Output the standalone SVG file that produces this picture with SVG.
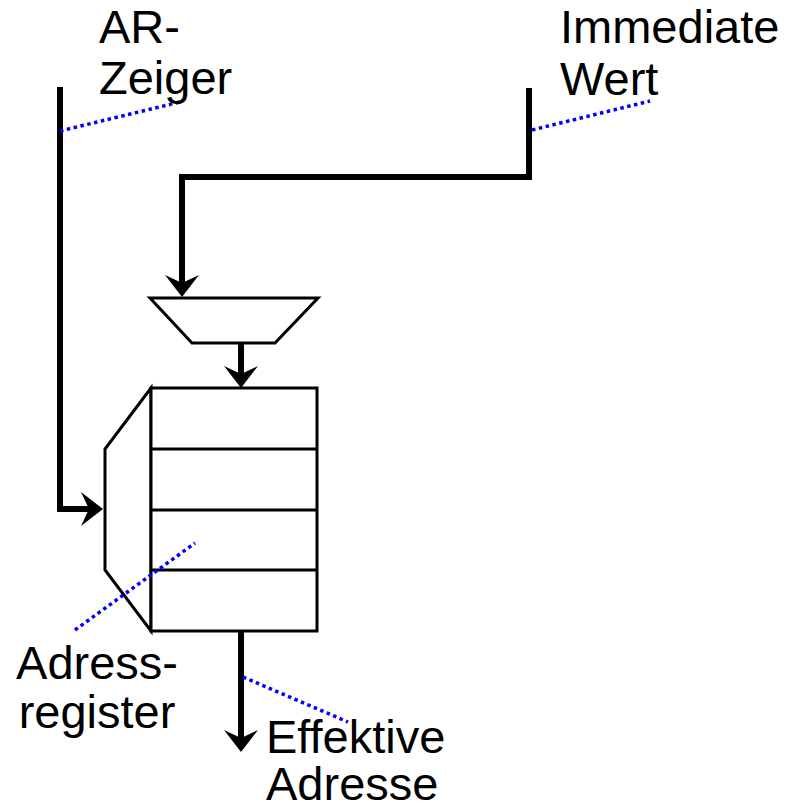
<svg xmlns="http://www.w3.org/2000/svg" width="788" height="809" viewBox="0 0 788 809">
<style>
.t{font-family:"Liberation Sans",Arial,sans-serif;font-size:47px;fill:#000}
.w{fill:none;stroke:#000;stroke-width:6}
.s{fill:#fff;stroke:#000;stroke-width:3}
.d{fill:none;stroke:#0000ff;stroke-width:3.5;stroke-dasharray:3.5 3.5}
</style>
<defs>
<marker id="ah" viewBox="0 0 22 34" refX="12" refY="17" markerWidth="22" markerHeight="34" markerUnits="userSpaceOnUse" orient="auto">
<path d="M0,0 L22,17 L0,34 L8,17 Z" fill="#000"/>
</marker>
</defs>
<rect width="788" height="809" fill="#fff"/>
<g id="mux">
<polygon class="s" points="150,298 318,298 275,343 192,343"/>
</g>
<g id="adressregister">
<polygon class="s" points="151,388 105,449 105,570 151,631"/>
<rect class="s" x="151" y="388" width="166" height="243"/>
<line class="s" x1="151" y1="449" x2="317" y2="449"/>
<line class="s" x1="151" y1="510" x2="317" y2="510"/>
<line class="s" x1="151" y1="570" x2="317" y2="570"/>
</g>
<g id="connectors">
<path class="w" d="M60,87 V509 H93" marker-end="url(#ah)"/>
<path class="w" d="M529,88 V177 H182 V287" marker-end="url(#ah)"/>
<path class="w" d="M241,343 V378" marker-end="url(#ah)"/>
<path class="w" d="M241,631 V742" marker-end="url(#ah)"/>
</g>
<g id="labels">
<line class="d" x1="60" y1="131" x2="180" y2="102"/>
<line class="d" x1="532" y1="130" x2="650" y2="101"/>
<line class="d" x1="75" y1="630" x2="195" y2="543"/>
<line class="d" x1="243" y1="677" x2="348" y2="722"/>
<text class="t" x="99" y="43">AR-</text>
<text class="t" x="99" y="94">Zeiger</text>
<text class="t" x="560" y="43">Immediate</text>
<text class="t" x="560" y="95">Wert</text>
<text class="t" x="97" y="679" text-anchor="middle">Adress-</text>
<text class="t" x="97" y="728" text-anchor="middle">register</text>
<text class="t" x="266" y="753">Effektive</text>
<text class="t" x="266" y="800">Adresse</text>
</g>
</svg>
